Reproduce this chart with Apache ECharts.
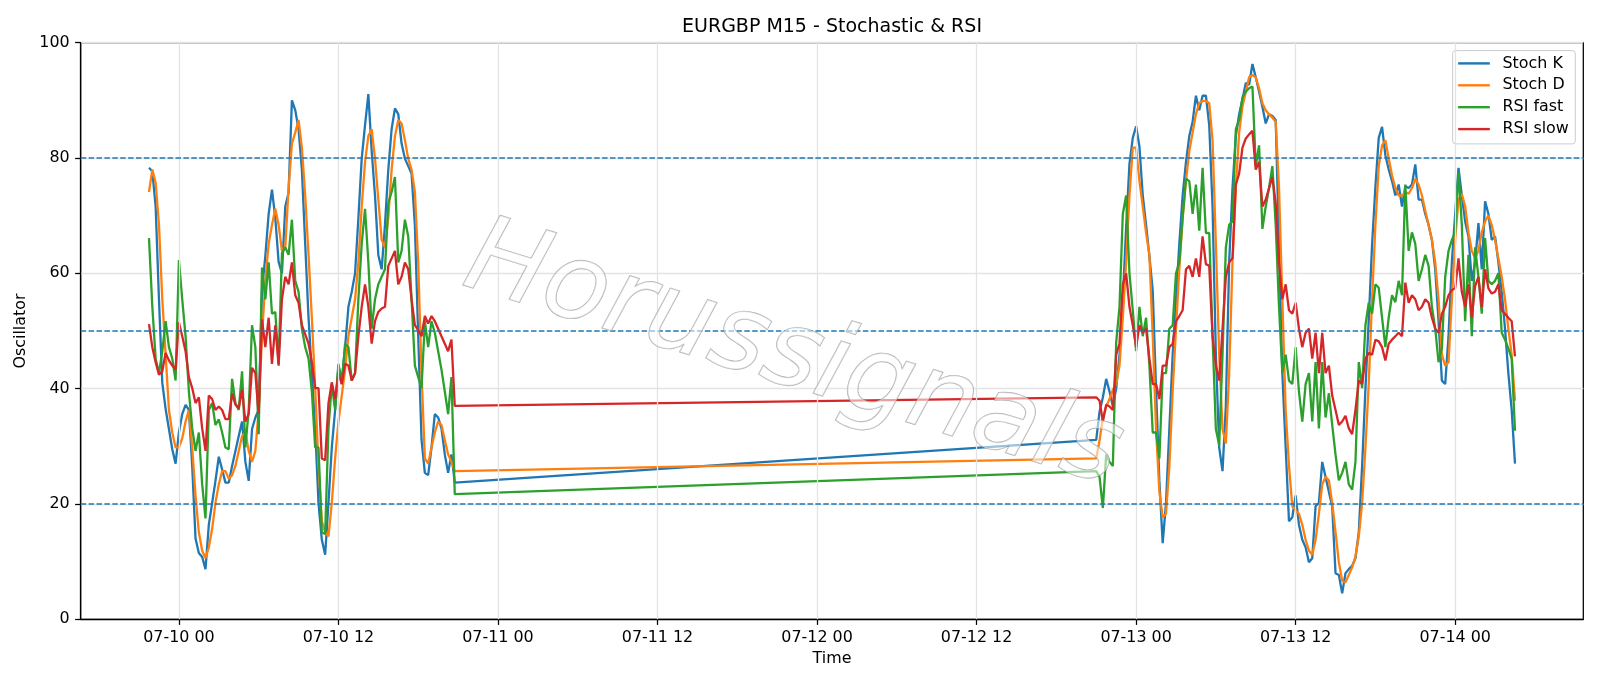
<!DOCTYPE html>
<html>
<head>
<meta charset="utf-8">
<script src="https://cdn.jsdelivr.net/npm/echarts@6/dist/echarts.min.js"></script>
<style>
html,body{margin:0;padding:0;background:#ffffff;}
#chart{width:1600px;height:686px;}
</style>
</head>
<body>
<div id="chart"></div>
<script>
// ---------------- data ----------------
const seg1Start = '2020-07-09T21:45:00Z';   // first M15 bar of the Friday session
const seg2Start = '2020-07-12T21:00:00Z';   // first M15 bar after the weekend
const barMinutes = 15;

const tickTimes  = ['2020-07-10T00:00:00Z','2020-07-10T12:00:00Z','2020-07-11T00:00:00Z','2020-07-11T12:00:00Z',
                    '2020-07-12T00:00:00Z','2020-07-12T12:00:00Z','2020-07-13T00:00:00Z','2020-07-13T12:00:00Z',
                    '2020-07-14T00:00:00Z'];
const tickLabels = ['07-10 00','07-10 12','07-11 00','07-11 12','07-12 00','07-12 12','07-13 00','07-13 12','07-14 00'];
const yTicks = [0, 20, 40, 60, 80, 100];
const levelLines = [20, 50, 80];

const seriesNames = ['Stoch K', 'Stoch D', 'RSI fast', 'RSI slow'];

const stochK1 = [78.3,77.7,71.6,55.5,41,36.5,33,29.5,27,32.4,35.6,37.2,36.3,26.6,14,11.5,10.8,8.7,16.4,20.2,
  24,28.2,26,23.7,23.7,26.6,29.2,31.8,34.3,27.3,24,33,35,36.3,57,63,70.3,74.5,69.6,62,60,71.6,74,90,
  88.3,85,78,65.1,52.3,42.7,33.1,20.2,13.8,11.2,20.2,29.8,36.3,44,41.4,47.2,54.2,56.8,60,69.6,
  79.9,85.7,91.1,81.2,73.5,63.2,60.7,68.4,78,85,88.6,87.6,82.5,79.9,78.6,77.3,68.4,49.1,31.1,25.4,
  25,29.8,35.6,35,33.1,28.6,25.4,28.6,23.7];
const stochK2 = [31.1,36,38.5,41.7,39.5,36.9,40,45.8,55.5,68,
  79,83.5,85.5,82,73.5,68.4,63,57,40,24,
  13.2,20.2,33,45.9,55.5,65.1,73.5,79.3,83.8,86.3,
  90.8,88.3,90.8,90.8,85.7,71.6,45.9,29.8,25.7,37,
  62,74.8,83.8,87.6,90.2,93,92.7,96.3,94,91.5,
  88.9,86,87.6,87.3,86.6,65.1,42.7,29.8,17,17.7,
  21.5,16.4,13.8,12.5,9.9,10.6,19.6,20.2,27.3,24.7,
  22.1,19.6,8,7.7,4.5,8,8.7,9.3,10.6,15.1,
  26.6,40,52,65,75,83.5,85.4,80.5,78,76,
  73.5,75.4,71.6,75.1,74.8,75.4,78.9,72.8,72.8,70.3,
  68.4,65.8,60.7,51.7,41.4,40.8,49.1,61.9,70.3,78.3,
  73.5,69,66.4,58.7,61.9,68.7,60.7,72.5,70.3,65.8,
  66.4,61.9,56.8,50.4,42.7,36.3,27];

const stochD1 = [74.1,78,75.7,68.4,55.5,45.9,36.3,32.4,29.8,29.8,31.4,34.3,36.3,29.8,21.5,15.1,11.9,10.6,12.5,15.7,
  20.2,23.4,25.7,25.7,24.4,25,26.6,29.2,31.8,32.4,29.2,27.3,29.2,36.3,49.1,58.7,65.1,68.4,71.2,68.4,
  63.9,64.5,74.8,82.5,
  84.4,86.6,81.8,73.5,63.2,52.3,40.1,26.6,17,15.1,14.4,20.2,27.9,34.3,38.8,43.3,49.1,52.3,55.5,61.9,
  71.6,79.3,83.8,85,79.9,72.8,65.8,64.5,69.6,78,83.8,86.6,86,83.1,79.9,78,74.1,61.9,42.7,27.9,
  27,29.8,32.4,34.3,33.7,31.1,28.6,27.3,25.7];
const stochD2 = [27.9,31,35,36.9,38.2,39.8,40.8,44,52.3,62,
  73.5,81.8,81.8,76,71.6,67,63.2,49.1,33,22.1,
  17.7,18.3,26.6,39.5,50.4,60.7,69.6,76,81.2,84.4,
  87.6,89.5,89.9,89.9,89.5,83.1,65.1,45.9,33,30.5,
  42.7,62,74.8,84.4,88.9,91.5,94,94.4,94,92.1,
  89.5,88.3,87.6,87,86.3,74.8,55.5,36.3,26.6,19.6,
  18.9,18.3,16.4,13.8,11.9,11.2,13.8,18.3,23.4,24.7,
  24.1,20.2,15.1,9.9,6.7,6.4,7.7,9,10.9,14.4,
  20.2,29.8,41,55.5,68.4,78.6,82.2,83.1,79.9,77,
  74.8,73.5,73.5,74.1,73.8,74.8,76.4,75.4,73.5,70.9,
  68.4,65.8,61.9,55.5,45.9,44,44.6,55.5,65.8,72.8,
  73.8,71.6,67.1,63.9,62.6,63.9,67.1,69,70,68.4,
  65.8,62.6,59.4,55.5,50.4,45.9,37.9];

const rsiFast1 = [66.1,54.2,45.2,42.7,46.5,51.7,47.2,45.2,41.4,62.3,55.5,49.1,39.5,33.1,29.2,32.4,23.4,17.5,36.3,37.5,
  33.7,34.7,32.4,29.8,29.5,41.7,37.5,36.3,43,29.8,36.3,51,47.2,32.1,61,55.5,61.9,53,53.3,44.3,
  63.5,64.5,63.2,69.3,
  58.7,56.8,50.4,47.2,45.2,39.5,29.8,29.8,15.1,14.8,33.1,40.8,36.3,44.3,40.8,47.8,47.2,41.4,42.7,55.5,
  65.1,71.2,61.9,50.4,55.5,58.1,59.4,60.7,72.2,74.1,76.7,61.9,63.9,69.3,66.4,55.5,44,42,40.1,51.7,
  47.2,51.7,49.7,46.5,43.3,39.5,35.6,42,21.7];
const rsiFast2 = [25.7,24.7,19.3,28.6,27.3,26.6,48,54.2,70.3,73.5,
  60,53.6,46.5,54.2,49.1,52.3,44,32.4,32.4,27.9,
  42.7,42.7,50.4,51,60,61.9,69.6,76.4,76,70.3,
  75.4,67.4,78.3,67,67,49.1,33,30.2,45.9,64.5,
  68.4,69,85,86.6,90.5,91.5,92.1,92.4,78.6,82.2,
  67.7,71.6,74.8,78.6,68.4,54.2,42.7,45.9,41.4,40.8,
  47.2,39.5,34.3,40.8,42.7,34.3,44.6,33.1,44.6,35,
  39.2,33.7,28.6,24.1,25.4,27.3,23.4,22.5,27.3,44.6,
  40.1,51,54.9,53,58.1,57.5,52.3,47.2,52.3,56.2,
  55,58.7,56.2,75.4,63.9,67.1,65.1,58.7,60.7,63.2,
  61.3,54.2,50.4,44.6,47,59.4,63.9,65.8,67.1,77.7,
  68.4,51.7,63.2,49.1,64.5,59.4,53,66.1,58.7,58.1,
  58.7,60,49.7,48.5,47,45.2,32.7];

const rsiSlow1 = [51.2,47.2,44.6,42.4,43,46.2,44.9,44,43.3,51.5,49.1,46.5,42,40.1,37.5,38.5,33.1,29.2,38.8,38.2,
  36.3,36.9,36.3,34.7,34.7,39.2,37.2,36.6,39.8,34.3,35.6,43.6,42.7,35.6,52,47.2,52.3,44.3,51,44,
  55.5,59.4,58.1,61.9,
  56.2,54.9,51,49.4,47.8,44.6,40.1,40.1,27.9,27.6,37.5,41.1,38.2,42.7,40.8,44.3,44,41.4,42.7,49.1,
  54.2,58.1,54.2,47.8,51.7,53.3,53.9,54.2,61.3,62.6,63.9,58.1,59.4,61.9,60.7,55.5,51,50.1,49.1,52.6,
  51.3,52.6,51.7,50.4,49.1,47.8,46.5,48.5,37];
const rsiSlow2 = [38.5,37.9,34.3,37.2,36.9,36.3,45.9,47.8,58.1,60,
  54.2,51,47.2,51,49.7,50.4,45.2,40.8,40.8,38.2,
  44,44,47.2,47.8,51.7,52.6,53.6,60.7,61.3,59.4,
  62.6,59.4,66.4,61.6,61.3,49.1,44,41.4,50.4,59.4,
  61.9,62.6,75.4,77.3,81.8,83.4,84.1,84.7,78,79.3,
  71.6,72.8,74.8,76.7,72.2,61.9,55.5,58.1,53.6,53,
  54.9,50.4,47.2,49.7,50.4,45.2,49.7,42.7,49.7,42.7,
  44,38.8,36.3,33.7,34.3,35.3,33.1,32.1,36.3,41.4,
  40.8,45.2,46.2,45.9,48.5,48.2,47.2,44.9,47.8,48.5,
  49.1,49.7,49.1,58.4,54.9,56.2,55.5,53.6,54.2,55.5,
  54.9,52.3,50.4,49.7,53,54.2,56.2,57.1,57.4,62.6,
  56.8,54.2,58.1,52.3,57.8,59.4,54.2,60.7,57.4,56.5,
  56.8,58.1,53.6,53,52.3,51.7,45.6];

// ---------------- build ----------------
const seriesColors = ['#1f77b4', '#ff7f0e', '#2ca02c', '#d62728'];
const seg1T0 = Date.parse(seg1Start);
const seg2T0 = Date.parse(seg2Start);
const stepMs = barMinutes * 60 * 1000;

function toPoints(a, b) {
  const pts = [];
  a.forEach((v, i) => pts.push([seg1T0 + i * stepMs, v]));
  b.forEach((v, j) => pts.push([seg2T0 + j * stepMs, v]));
  return pts;
}
const allSeries = [
  toPoints(stochK1, stochK2),
  toPoints(stochD1, stochD2),
  toPoints(rsiFast1, rsiFast2),
  toPoints(rsiSlow1, rsiSlow2)
];
const tickValues = tickTimes.map(t => Date.parse(t));
const dataFirst = allSeries[0][0][0];
const dataLast = allSeries[0][allSeries[0].length - 1][0];
const pad = 0.05 * (dataLast - dataFirst);   // matplotlib default margins
const xMin = dataFirst - pad;
const xMax = dataLast + pad;

const FONT = 'DejaVu Sans';
const FS = 15.9;

const chart = echarts.init(document.getElementById('chart'), null, {renderer: 'canvas'});

const series = seriesNames.map((name, k) => ({
  name: name,
  type: 'line',
  data: allSeries[k],
  symbol: 'none',
  showSymbol: false,
  smooth: false,
  z: 3,
  color: seriesColors[k],
  lineStyle: {color: seriesColors[k], width: 2.3},
  emphasis: {disabled: true},
  animation: false
}));

// vertical grid lines at the date ticks (below the data)
series.unshift({
  name: '_grid',
  type: 'line',
  data: [],
  z: 1,
  silent: true,
  animation: false,
  markLine: {
    silent: true,
    symbol: ['none', 'none'],
    label: {show: false},
    animation: false,
    lineStyle: {color: '#e3e3e3', width: 1.27, type: 'solid'},
    data: tickValues.map(v => ({xAxis: v}))
  }
});
// dashed level lines (on top of the data)
series.push({
  name: '_levels',
  type: 'line',
  data: [],
  z: 4,
  silent: true,
  animation: false,
  markLine: {
    silent: true,
    symbol: ['none', 'none'],
    label: {show: false},
    animation: false,
    lineStyle: {color: '#1f77b4', width: 1.5, type: [5.5, 2.4]},
    data: levelLines.map(v => ({yAxis: v}))
  }
});

const option = {
  animation: false,
  backgroundColor: '#ffffff',
  textStyle: {fontFamily: FONT, color: '#000'},
  grid: {
    left: 80.7, right: 16.7, top: 42.7, bottom: 66.7,
    show: true, borderColor: '#000', borderWidth: 1.27, backgroundColor: 'transparent'
  },
  legend: {
    data: seriesNames,
    orient: 'vertical',
    right: 24.7,
    top: 50.6,
    icon: 'rect',
    itemWidth: 31.7,
    itemHeight: 2.4,
    itemGap: 5.9,
    padding: [4.8, 6.5, 6.8, 5.5],
    backgroundColor: 'rgba(255,255,255,0.8)',
    borderColor: '#cccccc',
    borderWidth: 1,
    borderRadius: 3,
    itemStyle: {borderWidth: 0},
    textStyle: {fontFamily: FONT, fontSize: FS, color: '#000', lineHeight: 16, padding: [0, 0, 0, 7.7]},
    selectedMode: false
  },
  xAxis: {
    type: 'value',
    min: xMin,
    max: xMax,
    name: 'Time',
    nameLocation: 'middle',
    nameGap: 31,
    nameTextStyle: {fontFamily: FONT, fontSize: FS, color: '#000'},
    axisLine: {show: true, onZero: false, lineStyle: {color: '#000', width: 1.27}},
    axisTick: {show: true, inside: false, length: 5.6, customValues: tickValues, lineStyle: {color: '#000', width: 1.27}},
    axisLabel: {
      show: true, margin: 11, fontFamily: FONT, fontSize: FS, color: '#000',
      customValues: tickValues,
      formatter: function (v) { const k = tickValues.indexOf(v); return k >= 0 ? tickLabels[k] : ''; }
    },
    splitLine: {show: false}
  },
  yAxis: {
    type: 'value',
    min: yTicks[0],
    max: yTicks[yTicks.length - 1],
    interval: 20,
    name: 'Oscillator',
    nameLocation: 'middle',
    nameGap: 45,
    nameTextStyle: {fontFamily: FONT, fontSize: FS, color: '#000'},
    axisLine: {show: true, lineStyle: {color: '#000', width: 1.27}},
    axisTick: {show: true, inside: false, length: 5.6, lineStyle: {color: '#000', width: 1.27}},
    axisLabel: {margin: 11, fontFamily: FONT, fontSize: FS, color: '#000'},
    splitLine: {show: true, lineStyle: {color: '#e3e3e3', width: 1.27}}
  },
  graphic: [
    {
      type: 'text',
      x: 832, y: 27,
      z: 10,
      silent: true,
      style: {
        text: 'EURGBP M15 - Stochastic & RSI',
        fontFamily: FONT, fontSize: 19, fill: '#000',
        align: 'center', verticalAlign: 'middle'
      }
    },
    {
      type: 'text',
      x: 793, y: 358,
      rotation: -0.30,
      z: 100,
      silent: true,
      style: {
        text: 'Horussignals',
        fontFamily: FONT, fontSize: 106, fontStyle: 'italic',
        fill: 'rgba(255,255,255,0.55)',
        stroke: 'rgba(150,150,150,0.75)',
        lineWidth: 1.3,
        shadowColor: 'rgba(0,0,0,0.32)',
        shadowBlur: 5,
        shadowOffsetX: 4,
        shadowOffsetY: 4,
        align: 'center', verticalAlign: 'middle'
      }
    }
  ],
  series: series
};

chart.setOption(option);
</script>
</body>
</html>
